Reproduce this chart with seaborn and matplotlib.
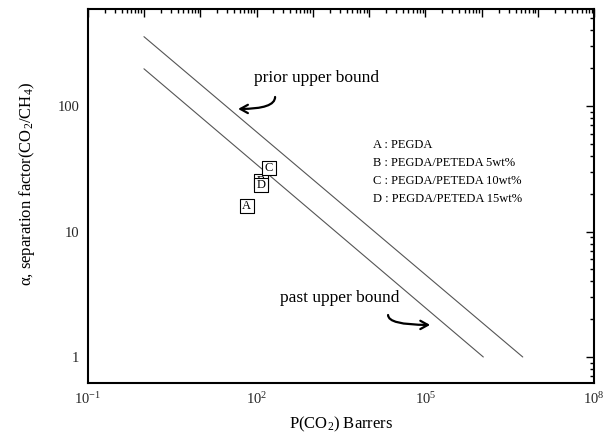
import numpy as np
import pandas as pd
import seaborn as sns
import matplotlib
matplotlib.use("Agg")
import matplotlib.pyplot as plt
from matplotlib.ticker import LogLocator, FuncFormatter, NullFormatter

# ---------------- data ----------------
prior_P = [1.0, 5.37e6]
prior_alpha = [357.0, 1.0]
past_P = [1.0, 1.07e6]
past_alpha = [198.0, 1.0]

sample_labels = ["A", "B", "C", "D"]
sample_P = [66.8, 121.0, 164.0, 121.0]
sample_alpha = [15.9, 25.3, 32.2, 23.5]

legend_lines = ["A : PEGDA",
                "B : PEGDA/PETEDA 5wt%",
                "C : PEGDA/PETEDA 10wt%",
                "D : PEGDA/PETEDA 15wt%"]
x_label_exps = [-1, 2, 5, 8]
y_tick_labels = [1, 10, 100]

# ---------------- style ----------------
sns.set_theme(style="white")
plt.rcParams["font.family"] = ["Liberation Serif", "DejaVu Serif"]
plt.rcParams["mathtext.fontset"] = "custom"
plt.rcParams["mathtext.rm"] = "Liberation Serif"
plt.rcParams["mathtext.it"] = "Liberation Serif:italic"
plt.rcParams["mathtext.bf"] = "Liberation Serif:bold"

fig = plt.figure(figsize=(6.13, 4.44), dpi=100)
ax = fig.add_axes([0.143, 0.1367, 0.8264, 0.843])

sns.lineplot(x=prior_P, y=prior_alpha, color="#555555", lw=0.8, ax=ax)
sns.lineplot(x=past_P, y=past_alpha, color="#555555", lw=0.8, ax=ax)

for i, (lab, p, a) in enumerate(zip(sample_labels, sample_P, sample_alpha)):
    z = 3 + i
    sns.scatterplot(x=[p], y=[a], marker="s", s=90, color="white",
                    edgecolor="black", linewidth=0.8, zorder=z, ax=ax)
    ax.text(p, a, lab, ha="center", va="center", fontsize=9,
            color="black", zorder=z + 0.5)

ax.set_xscale("log")
ax.set_yscale("log")
ax.set_xlim(0.1, 1e8)
ax.set_ylim(0.617, 593)

ax.xaxis.set_major_locator(LogLocator(base=10, numticks=20))
ax.xaxis.set_minor_locator(LogLocator(base=10, subs=np.arange(2, 10), numticks=200))


def xfmt(v, pos):
    e = int(round(np.log10(v)))
    if e in x_label_exps:
        return r"$\mathregular{10^{%d}}$" % e
    return ""


ax.xaxis.set_major_formatter(FuncFormatter(xfmt))
ax.xaxis.set_minor_formatter(NullFormatter())
ax.yaxis.set_major_locator(LogLocator(base=10, numticks=20))
ax.yaxis.set_minor_locator(LogLocator(base=10, subs=np.arange(2, 10), numticks=200))


def yfmt(v, pos):
    for t in y_tick_labels:
        if abs(v - t) / t < 1e-6:
            return str(t)
    return ""


ax.yaxis.set_major_formatter(FuncFormatter(yfmt))
ax.yaxis.set_minor_formatter(NullFormatter())

ax.tick_params(which="both", direction="in", top=True, right=True,
               color="black", width=1.0)
ax.tick_params(which="major", length=6, labelsize=10.5)
ax.tick_params(axis="x", which="major", pad=5.5)
ax.tick_params(axis="y", which="major", pad=6)
ax.tick_params(which="minor", length=3)
for s in ax.spines.values():
    s.set_linewidth(1.5)
    s.set_color("black")
    s.set_visible(True)

ax.set_xlabel(r"P(CO$_2$) Barrers", fontsize=12, color="black")
ax.set_ylabel("α, separation factor(CO$_2$/CH$_4$)", fontsize=12, color="black")
ax.xaxis.set_label_coords(0.5, -0.085)
ax.yaxis.set_label_coords(-0.10, 0.532)

# legend text block
ys = [0.638, 0.5898, 0.5417, 0.4928]
for txt, yy in zip(legend_lines, ys):
    ax.text(0.5637, yy, txt, transform=ax.transAxes, fontsize=9,
            ha="left", va="center", color="black")

# annotations
ax.text(0.4526, 0.8157, "prior upper bound", transform=ax.transAxes,
        fontsize=12.5, ha="center", va="center", color="black")
ax.text(0.498, 0.228, "past upper bound", transform=ax.transAxes,
        fontsize=12.5, ha="center", va="center", color="black")
ax.annotate("", xy=(0.297, 0.733), xytext=(0.370, 0.765),
            xycoords="axes fraction", textcoords="axes fraction",
            arrowprops=dict(arrowstyle="->,head_length=0.45,head_width=0.25",
                            connectionstyle="angle3,angleA=-90,angleB=0",
                            lw=1.6, color="black", shrinkA=0, shrinkB=0))
ax.annotate("", xy=(0.676, 0.156), xytext=(0.593, 0.1825),
            xycoords="axes fraction", textcoords="axes fraction",
            arrowprops=dict(arrowstyle="->,head_length=0.45,head_width=0.25",
                            connectionstyle="angle3,angleA=-90,angleB=0",
                            lw=1.6, color="black", shrinkA=0, shrinkB=0))

fig.savefig("out.png", dpi=100, facecolor="white")
